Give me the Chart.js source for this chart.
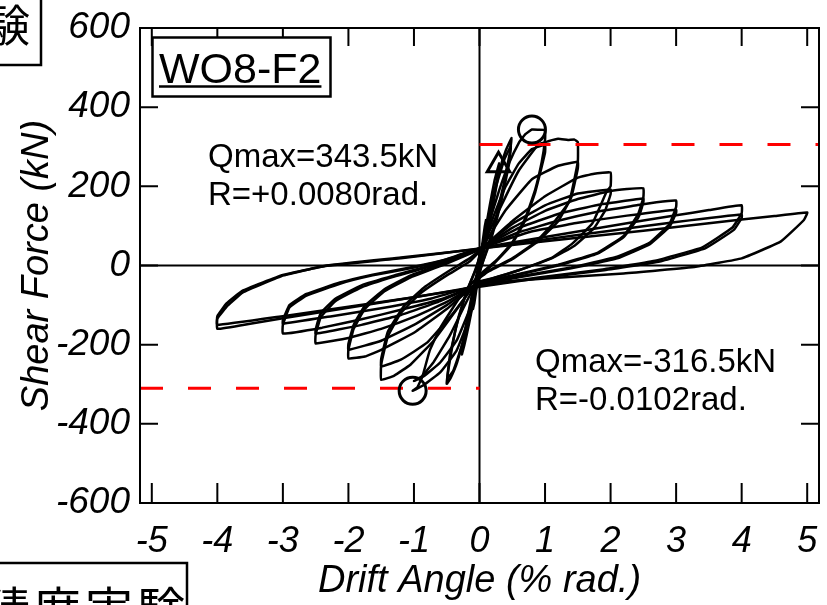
<!DOCTYPE html>
<html><head><meta charset="utf-8">
<script src="https://cdn.jsdelivr.net/npm/chart.js@4.4.0/dist/chart.umd.min.js"></script>
<style>html,body{margin:0;padding:0;background:#fff;overflow:hidden}canvas{display:block}</style>
</head><body>
<canvas id="c" width="827" height="605"></canvas>
<script>
// ---- axis ticks / ranges ----
const xTicks = [-5,-4,-3,-2,-1,0,1,2,3,4,5];
const yTicks = [-600,-400,-200,0,200,400,600];
const xRange = [-5.18, 5.18];
const yRange = [-600, 600];

// ---- hysteresis cycles: [drift %rad, shear kN] ----
const c01 = [[0,0],[0.04,50],[0.08,98],[0.1,115],[0.07,78],[0.03,30],[0,-4],[-0.04,-52],[-0.08,-96],[-0.1,-110],[-0.07,-68],[-0.03,-22],[0,8]];
const c02 = [[0,8],[0.08,80],[0.16,155],[0.23,215],[0.3,258],[0.27,212],[0.18,128],[0.08,44],[0,-12],[-0.08,-80],[-0.16,-148],[-0.23,-200],[-0.27,-225],[-0.22,-162],[-0.12,-78],[-0.03,-12],[0,15]];
const c03 = [[0,15],[0.1,90],[0.2,170],[0.3,238],[0.4,290],[0.49,322],[0.46,282],[0.36,198],[0.22,100],[0.08,24],[0,-16],[-0.1,-82],[-0.22,-170],[-0.34,-244],[-0.44,-284],[-0.5,-299],[-0.46,-248],[-0.36,-158],[-0.22,-78],[-0.08,-18],[0,20]];
const c04 = [[0,20],[0.12,100],[0.25,198],[0.38,268],[0.48,302],[0.45,256],[0.33,160],[0.18,68],[0.05,8],[0,-20],[-0.12,-100],[-0.26,-198],[-0.4,-266],[-0.49,-285],[-0.45,-226],[-0.32,-130],[-0.17,-54],[-0.04,-4],[0,25]];
const c05 = [[0,25],[0.15,110],[0.3,190],[0.45,258],[0.6,310],[0.7,332],[0.8,343.5],[0.9,343],[1.0,342],[1.0,318],[0.95,262],[0.85,192],[0.7,120],[0.5,58],[0.25,12],[0,-24],[-0.3,-80],[-0.6,-158],[-0.76,-215],[-0.87,-280],[-0.95,-308],[-1.02,-316.5],[-0.85,-302],[-0.6,-270],[-0.35,-215],[-0.15,-130],[-0.03,-40],[0,28]];
const c06 = [[0,28],[0.2,118],[0.4,200],[0.6,258],[0.8,294],[1.0,305],[1.0,285],[0.95,250],[0.85,185],[0.7,115],[0.5,55],[0.25,10],[0,-30],[-0.2,-92],[-0.45,-176],[-0.7,-244],[-0.88,-280],[-1.0,-292],[-0.85,-280],[-0.6,-245],[-0.35,-190],[-0.15,-110],[-0.03,-30],[0,32]];
const c07 = [[0,32],[0.3,140],[0.6,240],[0.9,306],[1.05,314],[1.2,320],[1.35,317],[1.45,318],[1.5,312],[1.5,262],[1.37,162],[1.11,104],[0.87,61],[0.5,18],[0.15,-12],[0,-30],[-0.3,-100],[-0.7,-190],[-1.05,-250],[-1.3,-278],[-1.5,-289],[-1.5,-250],[-1.4,-180],[-1.2,-120],[-0.9,-70],[-0.5,-25],[-0.15,10],[0,35]];
const c08 = [[0,35],[0.4,140],[0.8,218],[1.2,252],[1.5,262],[1.5,245],[1.4,172],[1.2,112],[0.9,62],[0.5,16],[0.15,-14],[0,-32],[-0.4,-120],[-0.8,-195],[-1.2,-238],[-1.5,-255],[-1.5,-236],[-1.4,-168],[-1.15,-102],[-0.85,-56],[-0.45,-12],[-0.15,18],[0,38]];
const c09 = [[0,38],[0.5,112],[1.0,175],[1.5,222],[1.75,232],[2.0,235],[2.0,200],[1.94,187],[1.72,106],[1.42,56],[1.11,20],[0.6,-12],[0.2,-32],[0,-40],[-0.5,-110],[-1.0,-170],[-1.5,-213],[-1.75,-230],[-2.0,-235],[-2.0,-213],[-1.92,-160],[-1.75,-110],[-1.45,-65],[-1.05,-30],[-0.5,5],[0,40]];
const c10 = [[0,40],[0.5,105],[1.0,152],[1.5,182],[2.0,192],[2.0,180],[1.92,140],[1.75,95],[1.45,50],[1.1,18],[0.6,-12],[0.2,-33],[0,-42],[-0.5,-100],[-1.0,-150],[-1.5,-190],[-2.0,-213],[-2.0,-198],[-1.92,-150],[-1.75,-102],[-1.45,-60],[-1.05,-25],[-0.5,8],[0,41]];
const c11 = [[0,41],[0.5,95],[1.0,138],[1.5,168],[2.0,188],[2.25,193],[2.5,195],[2.5,172],[2.42,130],[2.2,75],[1.8,32],[1.2,2],[0.5,-25],[0,-45],[-0.5,-92],[-1.0,-130],[-1.5,-160],[-2.0,-183],[-2.5,-197],[-2.5,-175],[-2.42,-130],[-2.2,-90],[-1.8,-55],[-1.3,-28],[-0.7,0],[0,42]];
const c12 = [[0,42],[0.6,95],[1.2,130],[1.8,153],[2.5,169],[2.5,160],[2.42,120],[2.2,72],[1.8,30],[1.2,0],[0.5,-27],[0,-46],[-0.6,-90],[-1.2,-125],[-1.8,-150],[-2.5,-172],[-2.5,-162],[-2.42,-120],[-2.2,-84],[-1.8,-50],[-1.3,-25],[-0.7,2],[0,43]];
const c13 = [[0,43],[0.6,84],[1.2,113],[1.8,136],[2.4,152],[2.7,160],[3.0,164],[3.0,148],[2.9,105],[2.6,58],[2.1,22],[1.4,-5],[0.6,-28],[0,-48],[-0.6,-86],[-1.2,-112],[-1.8,-136],[-2.4,-157],[-3.0,-172],[-3.0,-150],[-2.9,-106],[-2.64,-76],[-2.13,-46],[-1.63,-25],[-1.0,-5],[-0.5,15],[0,43]];
const c14 = [[0,43],[0.75,84],[1.5,108],[2.25,126],[3.0,141],[3.0,133],[2.9,98],[2.6,54],[2.1,18],[1.4,-7],[0.6,-30],[0,-48],[-0.75,-84],[-1.5,-108],[-2.25,-128],[-3.0,-147],[-3.0,-138],[-2.9,-100],[-2.64,-72],[-2.13,-43],[-1.63,-23],[-1.0,-3],[-0.5,16],[0,44]];
const c15 = [[0,44],[1.0,72],[2.0,100],[3.0,127],[3.5,140],[4.0,152],[4.0,132],[3.86,96],[3.4,46],[2.7,13],[1.88,-10],[0.9,-30],[0,-52],[-1.0,-80],[-2.0,-107],[-3.0,-133],[-3.5,-147],[-4.0,-160],[-4.0,-134],[-3.84,-101],[-3.61,-68],[-2.99,-25],[-2.33,0],[-1.2,20],[0,42]];
const c16 = [[0,42],[1.0,66],[2.0,88],[3.0,110],[4.0,129],[4.0,120],[3.88,90],[3.45,44],[2.75,10],[1.9,-12],[0.9,-32],[0,-54],[-1.0,-80],[-2.0,-104],[-3.0,-128],[-4.0,-150],[-4.0,-128],[-3.86,-96],[-3.62,-64],[-3.0,-24],[-2.35,-1],[-1.2,18],[0,43]];
const c17 = [[0,43],[1.0,61],[2.0,79],[3.0,97],[4.0,116],[4.5,125],[5.0,134],[4.95,115],[4.6,61],[4.0,18],[3.3,-3],[2.2,-20],[1.0,-33],[0,-45]];
const cycles = [c01,c02,c03,c04,c05,c06,c07,c08,c09,c10,c11,c12,c13,c14,c15,c16,c17];

// ---- marked points and reference levels ----
const peakPoints = [[0.80, 343.5], [-1.02, -316.5]];
const yieldPoint = [[0.29, 253]];
const refUpper = 306;
const refLower = -310;

const FONT = '"Liberation Sans", Arial, Helvetica, sans-serif';
const CJK = '"Noto Sans CJK JP", "Noto Sans CJK SC", sans-serif';
const toXY = arr => arr.map(p => ({x: p[0], y: p[1]}));

const datasets = cycles.map(c => ({
  data: toXY(c), showLine: true, pointRadius: 0, borderColor: '#000',
  borderWidth: 2.5, tension: 0.1, fill: false, order: 3
}));
datasets.push({
  data: toXY([[0, refUpper], [xRange[1], refUpper]]), showLine: true, pointRadius: 0,
  borderColor: '#ff0000', borderWidth: 3, borderDash: [23, 25], order: 2
});
datasets.push({
  data: toXY([[xRange[0], refLower], [0, refLower]]), showLine: true, pointRadius: 0,
  borderColor: '#ff0000', borderWidth: 3, borderDash: [23, 25], order: 2
});
datasets.push({
  data: toXY(peakPoints), showLine: false, pointStyle: 'circle', pointRadius: 13.5,
  pointBorderWidth: 3, pointBorderColor: '#000', pointBackgroundColor: 'rgba(0,0,0,0)', order: 1
});
datasets.push({
  data: toXY(yieldPoint), showLine: false, pointStyle: 'triangle', pointRadius: 13,
  pointBorderWidth: 3, pointBorderColor: '#000', pointBackgroundColor: 'rgba(0,0,0,0)', order: 1
});

// plot-area placement inside the 827x605 canvas
const AREA = {left: 140, right: 819, top: 28, bottom: 503};

const framePlugin = {
  id: 'frame',
  afterLayout(chart) {
    const ca = chart.chartArea, x = chart.scales.x, y = chart.scales.y;
    ca.left = AREA.left; ca.right = AREA.right; ca.top = AREA.top; ca.bottom = AREA.bottom;
    ca.width = ca.right - ca.left; ca.height = ca.bottom - ca.top;
    x.left = AREA.left; x.right = AREA.right; x.width = AREA.right - AREA.left;
    x.top = AREA.bottom; x.bottom = 605; x.height = 605 - AREA.bottom;
    y.top = AREA.top; y.bottom = AREA.bottom; y.height = AREA.bottom - AREA.top;
    y.left = 0; y.right = AREA.left; y.width = AREA.left;
    x.configure(); y.configure();
  },
  beforeDatasetsDraw(chart) {
    const {ctx, chartArea: a, scales: {x, y}} = chart;
    ctx.save();
    ctx.strokeStyle = '#000'; ctx.lineWidth = 2;
    const x0 = x.getPixelForValue(0), y0 = y.getPixelForValue(0);
    ctx.beginPath();
    ctx.moveTo(x0, a.top); ctx.lineTo(x0, a.bottom);
    ctx.moveTo(a.left, y0); ctx.lineTo(a.right, y0);
    ctx.stroke();
    ctx.restore();
  },
  afterDraw(chart) {
    const {ctx, chartArea: a, scales: {x, y}} = chart;
    ctx.save();
    ctx.strokeStyle = '#000'; ctx.lineWidth = 2;
    ctx.strokeRect(a.left, a.top, a.right - a.left, a.bottom - a.top);
    ctx.beginPath();
    xTicks.forEach(v => {
      const px = x.getPixelForValue(v);
      ctx.moveTo(px, a.bottom); ctx.lineTo(px, a.bottom - 20);
      ctx.moveTo(px, a.top); ctx.lineTo(px, a.top + 18);
    });
    yTicks.forEach(v => {
      const py = y.getPixelForValue(v);
      ctx.moveTo(a.left, py); ctx.lineTo(a.left + 18, py);
      ctx.moveTo(a.right, py); ctx.lineTo(a.right - 18, py);
    });
    ctx.stroke();

    // specimen label box
    ctx.fillStyle = '#fff';
    ctx.fillRect(152, 37, 178, 59);
    ctx.lineWidth = 2.5;
    ctx.strokeRect(152.5, 37.5, 178, 59);
    ctx.fillStyle = '#000';
    ctx.font = '43px ' + FONT;
    ctx.textAlign = 'left'; ctx.textBaseline = 'alphabetic';
    const lbl = 'WO8-F2';
    ctx.fillText(lbl, 159, 83);
    const w = ctx.measureText(lbl).width;
    ctx.beginPath(); ctx.moveTo(159, 86.5); ctx.lineTo(159 + w, 86.5); ctx.stroke();

    // annotations
    ctx.font = '33px ' + FONT;
    ctx.fillText('Qmax=343.5kN', 208, 167);
    ctx.fillText('R=+0.0080rad.', 208, 205);
    ctx.fillText('Qmax=-316.5kN', 535, 372);
    ctx.fillText('R=-0.0102rad.', 535, 410);

    // cropped page fragments
    ctx.lineWidth = 2.5;
    ctx.beginPath(); ctx.moveTo(41, 0); ctx.lineTo(41, 65); ctx.lineTo(0, 65); ctx.stroke();
    ctx.beginPath(); ctx.moveTo(0, 563); ctx.lineTo(187, 563); ctx.lineTo(187, 605); ctx.stroke();
    ctx.font = '44px ' + CJK;
    ctx.textAlign = 'center'; ctx.textBaseline = 'middle';
    ctx.fillText('験', 8, 25);
    ctx.font = '48px ' + CJK;
    const frag = ['精', '度', '実', '験'], fx = [6, 57, 109, 161];
    frag.forEach((ch, i) => ctx.fillText(ch, fx[i], 609));
    ctx.restore();
  }
};

new Chart(document.getElementById('c'), {
  type: 'scatter',
  data: {datasets},
  options: {
    responsive: false, animation: false, devicePixelRatio: 1,
    layout: {padding: {left: 0, top: 28, right: 8, bottom: 0}},
    plugins: {legend: {display: false}, tooltip: {enabled: false}},
    scales: {
      x: {
        type: 'linear', min: xRange[0], max: xRange[1],
        afterBuildTicks: s => { s.ticks = xTicks.map(v => ({value: v})); },
        afterFit: s => { s.height = 102; },
        ticks: {font: {family: FONT, size: 36, style: 'italic'}, color: '#000', padding: 17,
                maxRotation: 0, minRotation: 0, autoSkip: false, callback: v => String(v)},
        grid: {display: false, drawTicks: false},
        border: {display: false},
        title: {display: true, text: 'Drift Angle (% rad.)', color: '#000',
                font: {family: FONT, size: 38, style: 'italic'}, padding: {top: 0, bottom: 1}}
      },
      y: {
        type: 'linear', min: yRange[0], max: yRange[1],
        afterBuildTicks: s => { s.ticks = yTicks.map(v => ({value: v})); },
        afterFit: s => { s.width = 140; },
        ticks: {font: {family: FONT, size: 37, style: 'italic'}, color: '#000', padding: 10,
                autoSkip: false, callback: v => String(v)},
        grid: {display: false, drawTicks: false},
        border: {display: false},
        title: {display: true, text: 'Shear Force (kN)', color: '#000',
                font: {family: FONT, size: 38, style: 'italic'}, padding: {top: 15, bottom: 0}}
      }
    }
  },
  plugins: [framePlugin]
});
</script>
</body></html>
